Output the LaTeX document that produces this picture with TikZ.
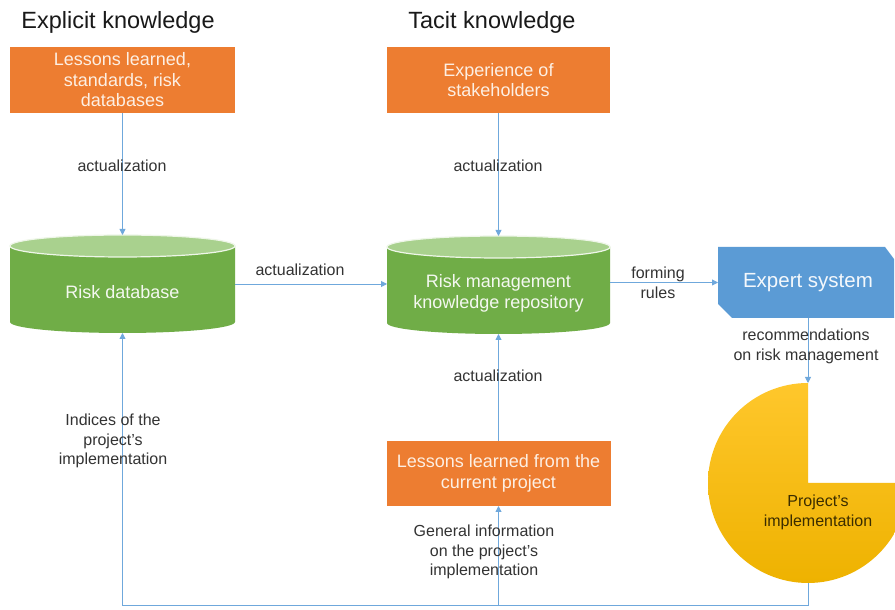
\documentclass[tikz,border=0pt]{standalone}
\usepackage{fontspec}
\setmainfont{Liberation Sans}
\usetikzlibrary{arrows.meta,calc}
\definecolor{boxorange}{HTML}{ED7D31}
\definecolor{cylgreen}{HTML}{70AD47}
\definecolor{cyltop}{HTML}{A9D18E}
\definecolor{esblue}{HTML}{5B9BD5}
\definecolor{linkblue}{HTML}{6FA8DC}
\definecolor{pietop}{HTML}{FFC72C}
\definecolor{piebot}{HTML}{EEB200}
\definecolor{labelgray}{HTML}{333333}
\definecolor{boxtext}{HTML}{FDEFE3}
\tikzset{
  every node/.style={inner sep=0pt, outer sep=0pt},
  title/.style={font=\fontsize{23.5}{28}\selectfont, text=black!90},
  srcbox/.style={fill=boxorange, minimum height=66pt, align=center,
    text=boxtext, font=\fontsize{18}{20.5}\selectfont},
  cylspace/.style={minimum width=#1, minimum height=98pt},
  cyltext/.style={text=white!92!cylgreen, align=center, font=\fontsize{18}{21}\selectfont},
  lbl/.style={text=labelgray, align=center, font=\fontsize{16}{19.8}\selectfont},
  link/.style={draw=linkblue, line width=0.9pt, -{Triangle[length=6pt,width=6pt]}},
}
% green cylinder filling the box of node #1, with ellipse half width #2
\newcommand\drawcylinder[2]{%
  \fill[cylgreen] ([yshift=-11pt]#1.north west) -- ([yshift=11pt]#1.south west)
    arc[start angle=180, end angle=360, x radius=#2pt, y radius=11pt]
    -- ([yshift=-11pt]#1.north east) -- cycle;
  \fill[cyltop, draw=white!80!cyltop, line width=1.2pt]
    ([yshift=-11pt]#1.north) ellipse[x radius=#2pt, y radius=11pt];
}
\begin{document}
\begin{tikzpicture}[x=1pt, y=1pt]
\useasboundingbox (0,0) rectangle (895,610);
\fill[white] (0,0) rectangle (895,610);

% column headings
\node[title] (hexp) at (118,588) {Explicit knowledge};
\node[title] (htac) at (492,588) {Tacit knowledge};

% knowledge sources
\node[srcbox, minimum width=225pt] (src1) at (122.5,530) {Lessons learned,\\standards, risk\\databases};
\node[srcbox, minimum width=223pt] (src2) at (498.5,530) {Experience of\\stakeholders};
\node[srcbox, minimum width=224pt, minimum height=65pt] (lessons) at (498.5,136.5) {Lessons learned from the\\current project};

% databases
\node[cylspace=225pt] (rdb) at (122.5,326) {};
\node[cylspace=223pt] (repo) at (498.5,325) {};
\drawcylinder{rdb}{112.5}
\drawcylinder{repo}{111.5}
\node[cyltext] (rdbtext) at ($(rdb.center)+(0,-8)$) {Risk database};
\node[cyltext] (repotext) at ($(repo.center)+(0,-8)$) {Risk management\\knowledge repository};

% expert system with two snipped corners
\node[minimum width=176pt, minimum height=71pt] (es) at (806,327.5) {};
\fill[esblue] (es.north west) -- ([xshift=-9pt]es.north east) -- ([yshift=-12pt]es.north east)
  -- (es.south east) -- ([xshift=14pt]es.south west) -- ([yshift=14pt]es.south west) -- cycle;
\node[text=white!93!esblue, font=\fontsize{20.5}{24}\selectfont] (estext) at (808,327) {Expert system};

% project implementation (three-quarter disc)
\node[circle, minimum size=200pt] (pie) at (808,127) {};
\shade[top color=pietop, bottom color=piebot]
  (pie.center) -- (pie.north) arc[start angle=90, end angle=360, radius=100pt] -- cycle;
\node[lbl, text=black!75!piebot, font=\fontsize{16}{20}\selectfont] (pietext) at (818,98) {Project's\\implementation};

% connectors
\draw[link] (src1) -- (rdb.north);
\draw[link] (src2) -- (repo.north);
\draw[link] (rdb.east) -- (repo.west |- rdb.east);
\draw[link] (repo.east |- es.west) -- (es.west);
\draw[link] (es.south -| pie.north) -- (pie.north);
\draw[link] (lessons.north) -- (repo.south);

\coordinate (bright) at (808,5);
\coordinate (bleft) at (122.5,5);
\coordinate (bmid) at (498.5,5);
\draw[link] (pie.south) -- (bright) -- (bleft) -- (rdb.south);
\draw[link] (bmid) -- (lessons.south);

% connector labels
\node[lbl] at (122,444) {actualization};
\node[lbl] at (498,444) {actualization};
\node[lbl] at (300,340) {actualization};
\node[lbl] at (658,327) {forming\\rules};
\node[lbl] at (806,264) {recommendations\\on risk management};
\node[lbl] at (498,234) {actualization};
\node[lbl] at (113,169) {Indices of the\\project's\\implementation};
\node[lbl] at (484,58) {General information\\on the project's\\implementation};
\end{tikzpicture}
\end{document}
